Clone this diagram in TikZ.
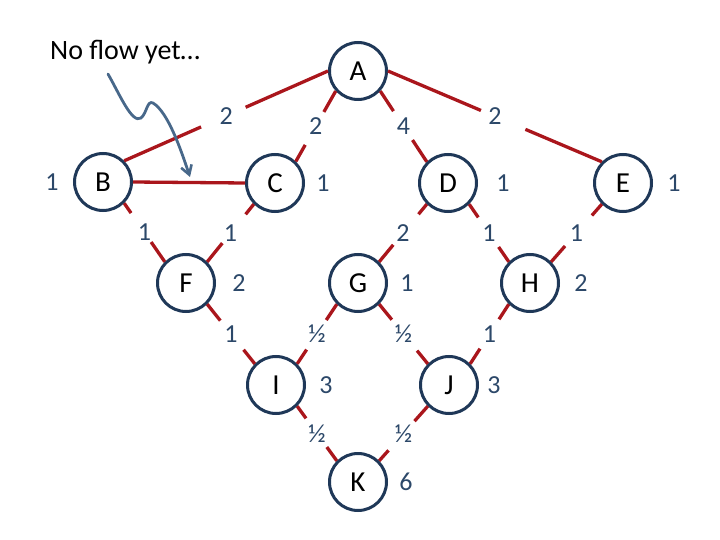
\documentclass[tikz,border=0pt]{standalone}
\usepackage{fontspec}
\setmainfont{Carlito}
\usetikzlibrary{calc,arrows.meta}
\definecolor{edgered}{RGB}{170,22,28}
\definecolor{navy}{RGB}{31,56,88}
\definecolor{numblue}{RGB}{44,72,105}
\definecolor{arrowblue}{RGB}{72,104,138}
\tikzset{
  vtx/.style={circle, draw=navy, fill=white, line width=3pt, minimum size=57pt, inner sep=0pt,
    font=\fontsize{29}{29}\selectfont, text=black},
  edge/.style={draw=edgered, line width=3.3pt},
  wlab/.style={font=\fontsize{26}{26}\selectfont, text=numblue, inner sep=0pt},
  note/.style={font=\fontsize{28}{28}\selectfont, text=black, inner sep=0pt},
  pointer/.style={draw=arrowblue, line width=2.8pt, line cap=round,
    -{Straight Barb[length=9pt,width=11pt,line width=2.6pt]}}
}
\newcommand\gapedge[5]{%
  \draw[edge] (#1) -- ($(#1)!#3pt!(#2)$);
  \draw[edge] (#2) -- ($(#2)!#4pt!(#1)$);
  \path (#1) -- node[wlab]{#5} (#2);
}
\begin{document}
\begin{tikzpicture}[x=1pt,y=-1pt]
\useasboundingbox (0,0) rectangle (720,540);
% vertices
\node[vtx] (A) at (358,71) {A};
\node[vtx] (B) at (103,182) {B};
\node[vtx] (C) at (275,183) {C};
\node[vtx] (D) at (448,183) {D};
\node[vtx] (E) at (623,183) {E};
\node[vtx] (F) at (186,283) {F};
\node[vtx] (G) at (358,283) {G};
\node[vtx] (H) at (530,283) {H};
\node[vtx] (I) at (276,385) {I};
\node[vtx] (J) at (449,385) {J};
\node[vtx] (K) at (358,482) {K};
% vertex weights
\node[wlab] (wB) at ($(B)+(-51,0)$) {1};
\node[wlab] (wC) at ($(C)+(48,0)$) {1};
\node[wlab] (wD) at ($(D)+(55,0)$) {1};
\node[wlab] (wE) at ($(E)+(51,0)$) {1};
\node[wlab] (wF) at ($(F)+(53,0)$) {2};
\node[wlab] (wG) at ($(G)+(49,0)$) {1};
\node[wlab] (wH) at ($(H)+(51,0)$) {2};
\node[wlab] (wI) at ($(I)+(50,0)$) {3};
\node[wlab] (wJ) at ($(J)+(45,0)$) {3};
\node[wlab] (wK) at ($(K)+(48,0)$) {6};
% edges
\draw[edge] (B.east) -- (C.west);
\gapedge{B.45}{A.180}{84}{90}{2}
\gapedge{A.222}{C.46}{24}{19}{2}
\gapedge{A.318}{D.135}{24}{26}{4}
\gapedge{A.0}{E.135}{101}{83}{2}
\gapedge{B.-45}{F.135}{12}{24}{1}
\gapedge{C.225}{F.45}{13}{24}{1}
\gapedge{D.225}{G.45}{13}{22}{2}
\gapedge{D.-45}{H.135}{16}{18}{1}
\gapedge{E.225}{H.45}{15}{21}{1}
\gapedge{F.-45}{I.135}{21}{18}{1}
\gapedge{G.225}{I.45}{19}{17}{½}
\gapedge{G.-45}{J.135}{20}{17}{½}
\gapedge{H.225}{J.45}{18}{18}{1}
\gapedge{I.-45}{K.135}{15}{17}{½}
\gapedge{J.225}{K.45}{20}{14}{½}
% note
\node[note, anchor=base west] (nt) at (50,60) {No flow yet…};
\coordinate (p0) at (108,74);
\coordinate (p1) at (190,177);
\draw[pointer] (p0) .. controls (120,95) and (132,124) .. (141,118)
  .. controls (147,113) and (147,100) .. (153,103)
  .. controls (168,112) and (181,150) .. (p1);
\end{tikzpicture}
\end{document}
